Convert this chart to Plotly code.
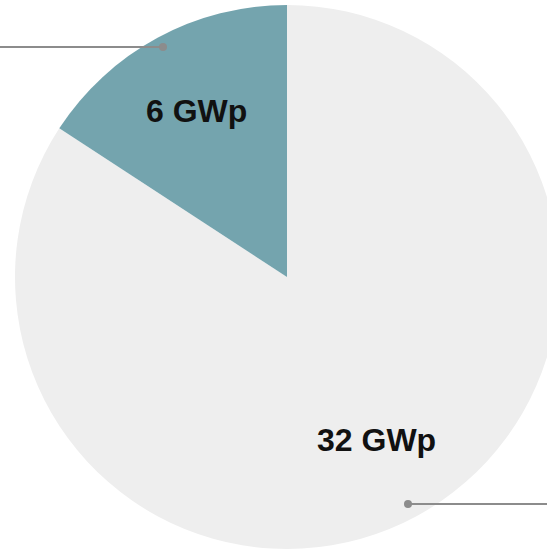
import plotly.graph_objects as go

labels = ["32 GWp", "6 GWp"]
values = [32, 6]
colors = ["#EEEEEE", "#74A4AE"]

W, H = 562, 549

def px(x):
    return x / W

def py(y):
    return 1 - y / H

fig = go.Figure()
fig.add_trace(go.Pie(
    labels=labels, values=values, sort=False, direction="clockwise",
    rotation=0, marker=dict(colors=colors, line=dict(width=0)),
    textinfo="none", hoverinfo="label", showlegend=False,
    domain=dict(x=[px(15), px(559)], y=[0, py(5)]),
))

label_pos = [(376, 440), (196, 111)]
for lab, (x, y) in zip(labels, label_pos):
    fig.add_annotation(x=px(x), y=py(y), xref="paper", yref="paper", text="<b>" + lab + "</b>",
                       showarrow=False, font=dict(family="Liberation Sans, Arial", size=32, color="#111111"),
                       xanchor="center", yanchor="middle")

line_col = "#8C8C8C"
fig.add_shape(type="line", xref="paper", yref="paper", x0=px(0), x1=px(163), y0=py(47), y1=py(47),
              line=dict(color=line_col, width=2))
fig.add_shape(type="line", xref="paper", yref="paper", x0=px(408), x1=px(547), y0=py(504), y1=py(504),
              line=dict(color=line_col, width=2))
for (cx, cy) in [(163, 47), (408, 504)]:
    fig.add_shape(type="circle", xref="paper", yref="paper", x0=px(cx - 4), x1=px(cx + 4),
                  y0=py(cy - 4), y1=py(cy + 4), fillcolor=line_col, line=dict(width=0))

fig.update_layout(width=W, height=H, margin=dict(l=0, r=0, t=0, b=0),
                  paper_bgcolor="white", plot_bgcolor="white")
fig.write_html("out.html", config={"displayModeBar": False},
               post_script="document.body.style.margin='0';document.body.style.overflow='hidden';document.documentElement.style.overflow='hidden';")
